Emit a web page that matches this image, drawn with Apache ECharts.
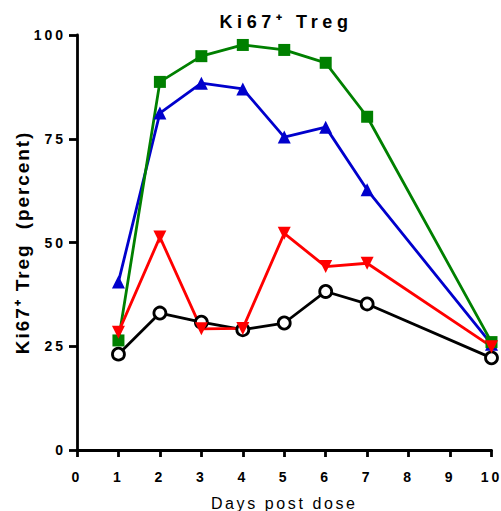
<!DOCTYPE html>
<html>
<head>
<meta charset="utf-8">
<script src="https://cdn.jsdelivr.net/npm/echarts@6/dist/echarts.min.js"></script>
<style>
  html, body { margin: 0; padding: 0; background: #fff; }
  #chart { width: 501px; height: 511px; }
  /* letter spacing per text role (each role uses its own font size) */
  #chart text[style*="18px"] { letter-spacing: 4.6px; }
  #chart text[style*="19px"] { letter-spacing: 1.9px; }
  #chart text[style*="14px"] { letter-spacing: 3px; }
  #chart text[style*="16px"] { letter-spacing: 2.6px; }
</style>
</head>
<body>
<div id="chart"></div>
<script>
// Days after dosing at which samples were taken
const days = [1, 2, 3, 4, 5, 6, 7, 10];

// Ki67+ Treg (percent) per group
const blackCircles = [23.1, 33.0, 30.8, 29.0, 30.6, 38.2, 35.2, 22.2];
const blueTriangles = [40.5, 81.2, 88.4, 87.0, 75.4, 77.8, 62.7, 25.5];
const greenSquares = [26.4, 88.7, 94.9, 97.6, 96.4, 93.3, 80.3, 26.0];
const redTriangles = [28.4, 51.3, 29.2, 29.3, 52.2, 44.2, 45.0, 24.9];

// Axis ticks
const xTicks = [0, 1, 2, 3, 4, 5, 6, 7, 8, 9, 10];
const yTicks = [0, 25, 50, 75, 100];

const FONT = '"Liberation Sans", Arial, Helvetica, sans-serif';

function pairs(values) {
  return days.map((d, i) => [d, values[i]]);
}

function lineSeries(name, values, color, symbol, opts) {
  return Object.assign({
    name: name,
    type: 'line',
    data: pairs(values),
    symbol: symbol,
    symbolSize: 12,
    clip: false,
    lineStyle: { color: color, width: 2.8 },
    itemStyle: { color: color, borderWidth: 0 },
    emphasis: { disabled: true }
  }, opts || {});
}

const chart = echarts.init(document.getElementById('chart'), null, { renderer: 'svg' });

chart.setOption({
  animation: false,
  backgroundColor: '#ffffff',
  title: {
    text: 'Ki67\u207A Treg',
    left: 286,
    top: 13,
    padding: 0,
    textAlign: 'center',
    textStyle: { fontFamily: FONT, fontSize: 18, fontWeight: 'bold', color: '#000' }
  },
  grid: { left: 77, right: 9.5, top: 35, bottom: 61, outerBoundsMode: 'none' },
  xAxis: {
    type: 'value',
    min: xTicks[0],
    max: xTicks[xTicks.length - 1],
    interval: 1,
    name: 'Days post dose',
    nameLocation: 'middle',
    nameGap: 45,
    nameTextStyle: { fontFamily: FONT, fontSize: 16, color: '#000' },
    axisLine: { show: true, onZero: false, lineStyle: { color: '#000', width: 2.8 } },
    axisTick: { show: true, length: 7, lineStyle: { color: '#000', width: 2.8 } },
    axisLabel: {
      margin: 20,
      fontFamily: FONT, fontSize: 14, fontWeight: 'bold', color: '#000',
      showMinLabel: true, showMaxLabel: true,
      formatter: v => String(v)
    },
    splitLine: { show: false }
  },
  yAxis: {
    type: 'value',
    min: yTicks[0],
    max: yTicks[yTicks.length - 1],
    interval: 25,
    name: 'Ki67\u207A Treg  (percent)',
    nameLocation: 'middle',
    nameGap: 38,
    nameRotate: 90,
    nameTextStyle: { fontFamily: FONT, fontSize: 19, fontWeight: 'bold', color: '#000' },
    axisLine: { show: true, onZero: false, lineStyle: { color: '#000', width: 2.8 } },
    axisTick: { show: true, length: 8, lineStyle: { color: '#000', width: 2.8 } },
    axisLabel: {
      margin: 11,
      fontFamily: FONT, fontSize: 14, fontWeight: 'bold', color: '#000',
      formatter: v => String(v)
    },
    splitLine: { show: false }
  },
  series: [
    lineSeries('Group A', blackCircles, '#000000', 'circle', {
      symbolSize: 12,
      itemStyle: { color: '#ffffff', borderColor: '#000000', borderWidth: 2.8 }
    }),
    lineSeries('Group B', blueTriangles, '#0000cc', 'triangle', { symbolSize: 13 }),
    lineSeries('Group C', greenSquares, '#008000', 'rect', { symbolSize: 12 }),
    lineSeries('Group D', redTriangles, '#ff0000', 'triangle', { symbolSize: 13, symbolRotate: 180 })
  ]
});
</script>
</body>
</html>
